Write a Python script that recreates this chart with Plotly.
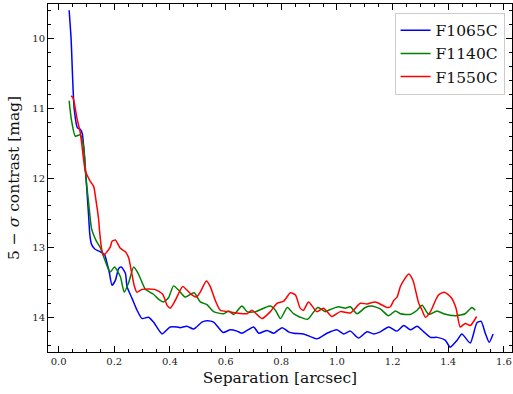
import plotly.graph_objects as go

# ---- data ----
series_names = ["F1065C", "F1140C", "F1550C"]
series_colors = ["#0000ff", "#008000", "#ff0000"]

blue_x = [0.038, 0.045, 0.056, 0.068, 0.078, 0.085, 0.104, 0.108, 0.112, 0.118, 0.130, 0.150, 0.165,
          0.175, 0.182, 0.192, 0.204, 0.216, 0.225, 0.240, 0.246, 0.264, 0.282, 0.300, 0.323, 0.341,
          0.372, 0.401, 0.425, 0.437, 0.461, 0.485, 0.515, 0.533, 0.557, 0.591, 0.617, 0.641, 0.659,
          0.677, 0.701, 0.719, 0.749, 0.773, 0.803, 0.826, 0.844, 0.880, 0.928, 0.964, 1.000, 1.024,
          1.048, 1.078, 1.108, 1.132, 1.156, 1.186, 1.216, 1.240, 1.264, 1.288, 1.312, 1.336, 1.360,
          1.389, 1.407, 1.432, 1.449, 1.479, 1.503, 1.518, 1.533, 1.547, 1.561]
blue_y = [9.59, 10.00, 11.00, 11.28, 11.30, 11.36, 12.31, 12.55, 12.80, 12.95, 13.02, 13.06, 13.10,
          13.24, 13.35, 13.54, 13.47, 13.30, 13.28, 13.37, 13.56, 13.73, 13.90, 14.02, 14.00, 14.07,
          14.24, 14.14, 14.14, 14.15, 14.13, 14.17, 14.07, 14.05, 14.07, 14.22, 14.18, 14.20, 14.23,
          14.19, 14.14, 14.23, 14.19, 14.23, 14.15, 14.21, 14.23, 14.24, 14.31, 14.23, 14.18, 14.24,
          14.20, 14.30, 14.21, 14.24, 14.21, 14.14, 14.20, 14.12, 14.18, 14.13, 14.21, 14.29, 14.29,
          14.33, 14.43, 14.33, 14.24, 14.37, 14.08, 14.06, 14.23, 14.36, 14.24]

green_x = [0.038, 0.046, 0.060, 0.078, 0.090, 0.098, 0.108, 0.118, 0.126, 0.135, 0.150, 0.162, 0.180,
           0.186, 0.201, 0.222, 0.236, 0.252, 0.270, 0.287, 0.312, 0.341, 0.359, 0.377, 0.395, 0.413,
           0.431, 0.455, 0.487, 0.509, 0.533, 0.557, 0.593, 0.611, 0.629, 0.659, 0.677, 0.707, 0.743,
           0.761, 0.779, 0.797, 0.822, 0.844, 0.868, 0.895, 0.931, 0.958, 0.976, 1.005, 1.030, 1.048,
           1.072, 1.102, 1.124, 1.156, 1.185, 1.210, 1.228, 1.264, 1.288, 1.306, 1.330, 1.360, 1.383,
           1.425, 1.461, 1.485, 1.497]
green_y = [10.89, 11.16, 11.40, 11.38, 11.55, 11.98, 12.36, 12.72, 12.82, 12.90, 13.00, 13.13, 13.32,
           13.35, 13.28, 13.42, 13.64, 13.50, 13.28, 13.38, 13.60, 13.67, 13.74, 13.78, 13.72, 13.55,
           13.61, 13.71, 13.65, 13.78, 13.82, 13.92, 13.95, 13.91, 13.96, 13.84, 13.92, 13.92, 13.86,
           13.84, 13.90, 14.02, 13.86, 13.95, 14.00, 14.03, 13.86, 13.92, 13.89, 13.85, 13.87, 13.85,
           13.95, 13.86, 13.84, 13.88, 13.98, 13.91, 13.95, 13.96, 13.90, 13.83, 13.96, 13.91, 13.95,
           13.98, 13.95, 13.86, 13.90]

red_x = [0.045, 0.052, 0.066, 0.078, 0.096, 0.104, 0.114, 0.126, 0.134, 0.144, 0.147, 0.155, 0.162,
         0.174, 0.186, 0.192, 0.204, 0.222, 0.240, 0.252, 0.262, 0.272, 0.281, 0.300, 0.345, 0.374,
         0.390, 0.401, 0.419, 0.446, 0.461, 0.479, 0.495, 0.509, 0.531, 0.545, 0.563, 0.581, 0.611,
         0.641, 0.677, 0.695, 0.710, 0.731, 0.761, 0.785, 0.809, 0.833, 0.851, 0.868, 0.880, 0.898,
         0.928, 0.952, 0.982, 1.012, 1.048, 1.084, 1.108, 1.138, 1.180, 1.192, 1.204, 1.216, 1.228,
         1.240, 1.258, 1.273, 1.288, 1.294, 1.306, 1.318, 1.336, 1.354, 1.365, 1.386, 1.411, 1.428,
         1.443, 1.461, 1.479, 1.502]
red_y = [10.82, 10.85, 11.14, 11.35, 11.90, 11.97, 12.05, 12.12, 12.31, 12.60, 12.75, 13.03, 13.11,
         13.06, 12.99, 12.91, 12.89, 13.01, 13.06, 13.15, 13.35, 13.55, 13.64, 13.60, 13.60, 13.67,
         13.83, 13.87, 13.76, 13.56, 13.61, 13.68, 13.71, 13.64, 13.48, 13.56, 13.76, 13.90, 13.92,
         13.94, 13.95, 13.90, 13.95, 14.02, 13.92, 13.80, 13.77, 13.65, 13.68, 13.87, 13.90, 13.78,
         13.92, 13.87, 13.99, 13.92, 13.94, 13.80, 13.81, 13.78, 13.86, 13.85, 13.76, 13.71, 13.56,
         13.47, 13.38, 13.47, 13.71, 13.80, 13.90, 14.00, 13.92, 13.76, 13.68, 13.64, 13.72, 13.87,
         14.14, 14.09, 14.12, 13.99]

x_tickvals = [0.0, 0.2, 0.4, 0.6, 0.8, 1.0, 1.2, 1.4, 1.6]
y_tickvals = [10, 11, 12, 13, 14]

FONT = "DejaVu Serif"

fig = go.Figure()
for name, color, xs, ys in zip(series_names, series_colors,
                               [blue_x, green_x, red_x], [blue_y, green_y, red_y]):
    fig.add_trace(go.Scatter(x=xs, y=ys, mode="lines", name=name,
                             line=dict(color=color, width=1.5, shape="spline", smoothing=0.6)))

axis_common = dict(
    showline=True, linecolor="black", linewidth=1, mirror="allticks",
    ticks="inside", ticklen=6, tickwidth=1, tickcolor="black",
    showgrid=False, zeroline=False,
    tickfont=dict(family=FONT, size=10, color="#222"),
)

fig.update_xaxes(
    range=[-0.038, 1.629], tickvals=x_tickvals, tickformat=".1f",
    minor=dict(ticks="inside", dtick=0.05, tick0=0, ticklen=3, tickcolor="black", showgrid=False),
    title=dict(text="Separation [arcsec]", font=dict(family=FONT, size=15.5, color="#111"), standoff=6),
    **axis_common,
)
fig.update_yaxes(
    range=[14.5, 9.5], tickvals=y_tickvals,
    minor=dict(ticks="inside", dtick=0.2, tick0=10, ticklen=3, tickcolor="black", showgrid=False),
    title=dict(text="5 − <i>σ</i> contrast [mag]", font=dict(family=FONT, size=15.5, color="#111"), standoff=8),
    **axis_common,
)

fig.update_layout(
    width=513, height=394,
    margin=dict(l=48, r=1, t=4, b=42),
    paper_bgcolor="white", plot_bgcolor="white",
    legend=dict(
        x=0.984, y=0.975, xanchor="right", yanchor="top",
        bgcolor="rgba(255,255,255,0.85)", bordercolor="#cccccc", borderwidth=1,
        font=dict(family=FONT, size=15.5, color="#111"),
        itemwidth=30, tracegroupgap=0,
    ),
    showlegend=True,
)

fig.write_html("out.html")
